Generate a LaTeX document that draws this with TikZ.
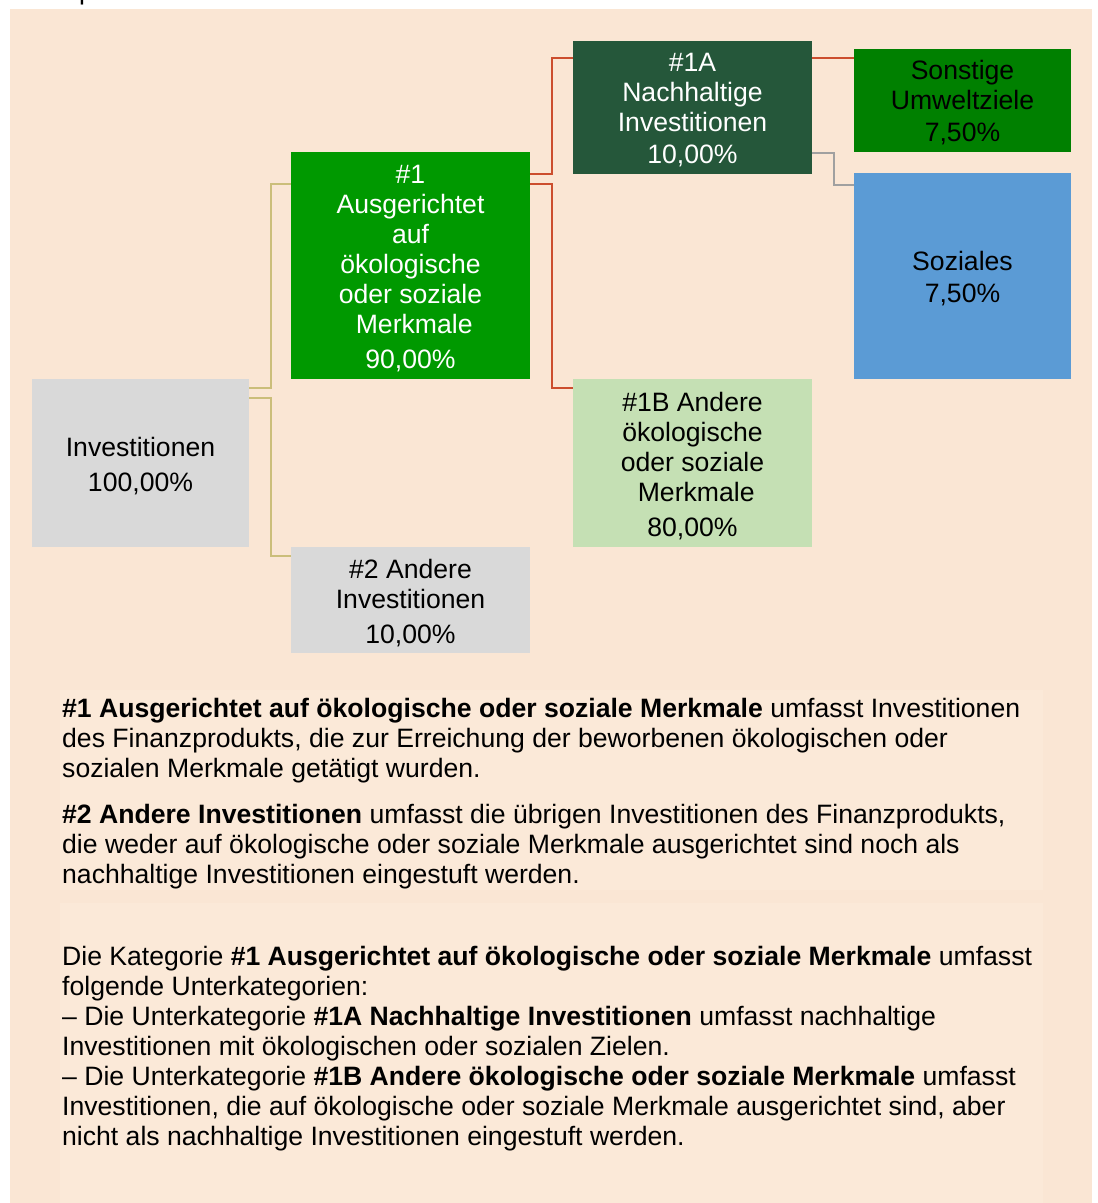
\documentclass[tikz,border=0pt]{standalone}
\usepackage{fontspec}
\setmainfont{Liberation Sans}
\definecolor{bgpeach}{RGB}{250,230,212}
\definecolor{panelpeach}{RGB}{251,233,216}
\definecolor{boxgray}{RGB}{217,217,217}
\definecolor{greenA}{RGB}{0,153,0}
\definecolor{darkgreen}{RGB}{37,87,58}
\definecolor{midgreen}{RGB}{0,128,0}
\definecolor{lightgreen}{RGB}{197,224,180}
\definecolor{blueS}{RGB}{91,155,213}
\definecolor{tanline}{RGB}{203,190,122}
\definecolor{redline}{RGB}{204,78,46}
\definecolor{grayline}{RGB}{160,160,160}
\newcommand\dfont{\fontsize{26.6}{30}\selectfont}
\begin{document}
\begin{tikzpicture}[x=1pt,y=-1pt,
  box/.style={rectangle, inner sep=0pt},
  boxtext/.style={inner sep=0pt, align=center, font=\dfont, text=black},
  conn/.style={line width=2pt},
  txt/.style={anchor=base west, inner sep=0pt, font=\dfont, text=black}]
\useasboundingbox (0,0) rectangle (1098,1203);
\fill[white] (0,0) rectangle (1098,1203);
\fill[bgpeach] (10,9) rectangle (1092,1203);
\fill[panelpeach] (60,690) rectangle (1043,890);
\fill[panelpeach] (60,903) rectangle (1043,1203);
\node[txt] (frag) at (79,-1) {p};
% boxes
\node[box, fill=boxgray, minimum width=217pt, minimum height=168pt] (inv) at (140.5,463) {};
\node[box, fill=greenA, minimum width=239pt, minimum height=227pt] (n1) at (410.5,265.5) {};
\node[box, fill=boxgray, minimum width=239pt, minimum height=106pt] (n2) at (410.5,600) {};
\node[box, fill=darkgreen, minimum width=239pt, minimum height=133pt] (n1a) at (692.5,107.5) {};
\node[box, fill=lightgreen, minimum width=239pt, minimum height=168pt] (n1b) at (692.5,463) {};
\node[box, fill=midgreen, minimum width=217pt, minimum height=103pt] (son) at (962.5,100.5) {};
\node[box, fill=blueS, minimum width=217pt, minimum height=206pt] (soz) at (962.5,276) {};
% box texts
\node[boxtext] (invt) at ([yshift=-3pt]inv.center) {Investitionen\\[5pt]100,00\%};
\node[boxtext, text=white] (n1t) at ([yshift=-3pt]n1.center) {\#1\\Ausgerichtet\\auf\\ökologische\\oder soziale\\~Merkmale\\[5pt]90,00\%};
\node[boxtext] (n2t) at ([yshift=-3pt]n2.center) {\#2 Andere\\Investitionen\\[5pt]10,00\%};
\node[boxtext, text=white] (n1at) at ([yshift=-3pt]n1a.center) {\#1A\\Nachhaltige\\Investitionen\\[2pt]10,00\%};
\node[boxtext] (n1bt) at ([yshift=-3pt]n1b.center) {\#1B Andere\\ökologische\\oder soziale\\~Merkmale\\[5pt]80,00\%};
\node[boxtext] (sont) at ([yshift=-2.5pt]son.center) {Sonstige\\Umweltziele\\[2pt]7,50\%};
\node[boxtext] (sozt) at ([yshift=-3pt]soz.center) {Soziales\\[2pt]7,50\%};
% connectors
\draw[conn, tanline] ([yshift=75pt]inv.east) -- ++(22,0) |- ([yshift=81.5pt]n1.west);
\draw[conn, tanline] ([yshift=65pt]inv.east) -- ++(22,0) |- ([yshift=44pt]n2.west);
\draw[conn, redline] ([yshift=91.5pt]n1.east) -- ++(22,0) |- ([yshift=49.5pt]n1a.west);
\draw[conn, redline] ([yshift=81.5pt]n1.east) -- ++(22,0) |- ([yshift=75pt]n1b.west);
\draw[conn, redline] ([yshift=49.5pt]n1a.east) -- ([yshift=42.5pt]son.west);
\draw[conn, grayline] ([yshift=-45.5pt]n1a.east) -- ++(22,0) |- ([yshift=91pt]soz.west);
% text
\node[txt] (t1) at (62,717) {\textbf{\#1 Ausgerichtet auf ökologische oder soziale Merkmale} umfasst Investitionen};
\node[txt] (t2) at (62,747) {des Finanzprodukts, die zur Erreichung der beworbenen ökologischen oder};
\node[txt] (t3) at (62,777) {sozialen Merkmale getätigt wurden.};
\node[txt] (t4) at (62,823) {\textbf{\#2 Andere Investitionen} umfasst die übrigen Investitionen des Finanzprodukts,};
\node[txt] (t5) at (62,853) {die weder auf ökologische oder soziale Merkmale ausgerichtet sind noch als};
\node[txt] (t6) at (62,883) {nachhaltige Investitionen eingestuft werden.};
\node[txt] (t7) at (62,965) {Die Kategorie \textbf{\#1 Ausgerichtet auf ökologische oder soziale Merkmale} umfasst};
\node[txt] (t8) at (62,995) {folgende Unterkategorien:};
\node[txt] (t9) at (62,1025) {– Die Unterkategorie \textbf{\#1A Nachhaltige Investitionen} umfasst nachhaltige};
\node[txt] (t10) at (62,1055) {Investitionen mit ökologischen oder sozialen Zielen.};
\node[txt] (t11) at (62,1085) {– Die Unterkategorie \textbf{\#1B Andere ökologische oder soziale Merkmale} umfasst};
\node[txt] (t12) at (62,1115) {Investitionen, die auf ökologische oder soziale Merkmale ausgerichtet sind, aber};
\node[txt] (t13) at (62,1145) {nicht als nachhaltige Investitionen eingestuft werden.};
\end{tikzpicture}
\end{document}
